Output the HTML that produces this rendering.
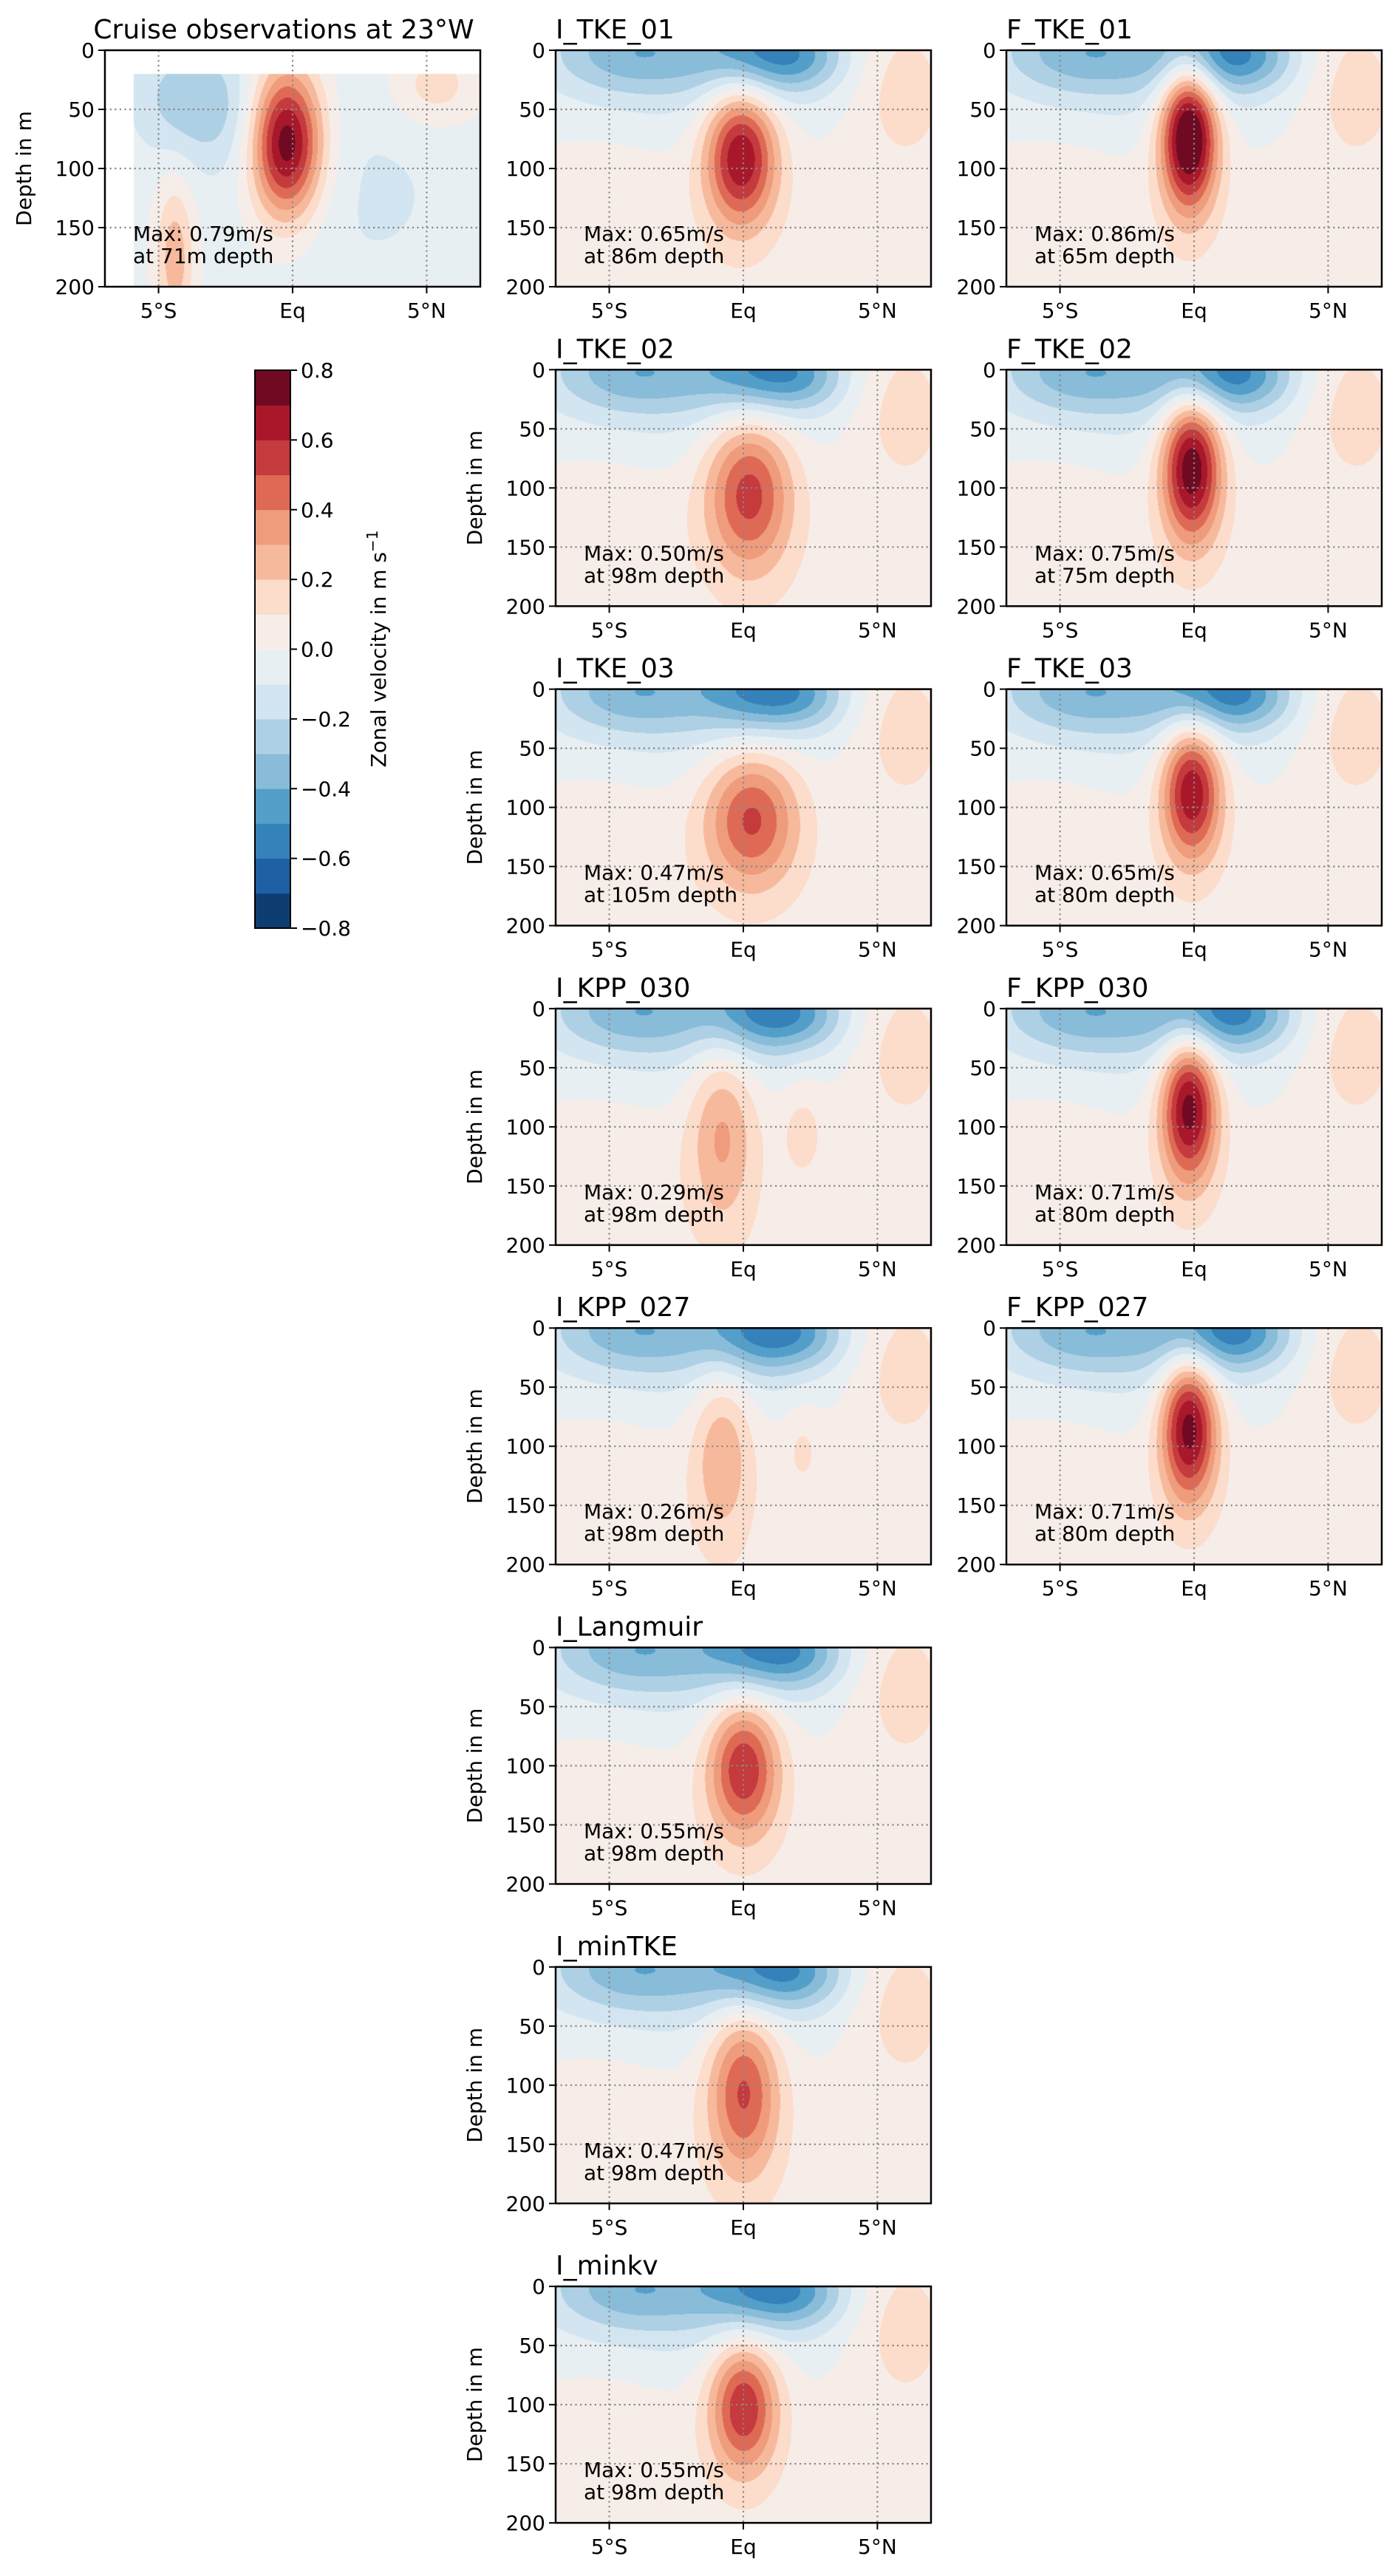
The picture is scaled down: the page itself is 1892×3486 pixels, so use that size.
<!DOCTYPE html>
<html><head><meta charset="utf-8">
<style>
html,body{margin:0;padding:0;background:#fff;}
body{width:1892px;height:3486px;position:relative;overflow:hidden;font-family:"DejaVu Sans","Liberation Sans",sans-serif;}
</style></head>
<body>
<svg id="fig" width="1892" height="3486" xmlns="http://www.w3.org/2000/svg" style="position:absolute;left:0;top:0"></svg>
<script>
// ---- data ----
const levels = [-0.8,-0.7,-0.6,-0.5,-0.4,-0.3,-0.2,-0.1,0,0.1,0.2,0.3,0.4,0.5,0.6,0.7,0.8];
const levelColors = ['#0e3d72','#1f5fa4','#3581ba','#539fca','#88bcd9','#aed0e4','#d3e5f0','#e8eff2',
                     '#f7ede8','#fcdcca','#f7b99c','#ef9c7c','#de6a55','#c43a3d','#a8182a','#6f0a22'];
const cbTicks = [-0.8,-0.6,-0.4,-0.2,0.0,0.2,0.4,0.6,0.8];
const latTicks = [-5,0,5];
const latTickLabels = ['5°S','Eq','5°N'];
const depthTicks = [0,50,100,150,200];
const panelTitles = ['Cruise observations at 23°W','I_TKE_01','F_TKE_01','I_TKE_02','F_TKE_02','I_TKE_03','F_TKE_03',
  'I_KPP_030','F_KPP_030','I_KPP_027','F_KPP_027','I_Langmuir','I_minTKE','I_minkv'];
const panelMax = [0.79,0.65,0.86,0.50,0.75,0.47,0.65,0.29,0.71,0.26,0.71,0.55,0.47,0.55];
const panelMaxDepth = [71,86,65,98,75,105,80,98,80,98,80,98,98,98];
// blobs: [lat, depth, amplitude, sigmaLat, sigmaDepth]
const surfaceBlobs = [[-4,0,-0.36,2.4,26],[0.6,0,-0.42,1.5,26],[2.4,5,-0.22,1.2,20],[-2,40,-0.09,4,35],[6.0,35,0.15,1.3,45],[0,200,0.05,9,90],[-5,150,0.05,1.5,60]];
const eucBlobs = [
  [[-0.25,78,0.84,0.95,45],[-4.4,175,0.3,0.5,45],[-4.0,40,-0.22,1.4,35],[-2.2,60,-0.1,1.2,40],[5.3,30,0.2,1.2,25],[3,120,-0.08,3,80]],
  [[-0.1,88,0.7,0.95,42]],
  [[-0.2,70,0.92,0.75,45]],
  [[0.2,102,0.53,1.15,48]],
  [[-0.1,80,0.8,0.8,45]],
  [[0.3,108,0.5,1.25,42]],
  [[-0.1,84,0.7,0.8,42]],
  [[-0.8,100,0.3,0.9,60],[2.2,100,0.12,0.6,30]],
  [[-0.2,82,0.76,0.75,45]],
  [[-0.8,102,0.27,0.8,55],[2.2,100,0.1,0.5,25]],
  [[-0.2,82,0.76,0.75,45]],
  [[0.0,100,0.58,0.95,42]],
  [[0.0,102,0.5,0.95,52]],
  [[0.0,100,0.58,0.9,40]]
];
// ---- layout ----
const colX=[142,752,1362], PW=508, PH=320;
const rowY=i=>68+432.3*i;
const pos=[[0,0],[1,0],[2,0],[1,1],[2,1],[1,2],[2,2],[1,3],[2,3],[1,4],[2,4],[1,5],[1,6],[1,7]];
const NS='http://www.w3.org/2000/svg';
const svg=document.getElementById('fig');
function mk(tag,attrs,parent){const e=document.createElementNS(NS,tag);for(const k in attrs)e.setAttribute(k,attrs[k]);(parent||svg).appendChild(e);return e;}
function hex(c){return [parseInt(c.substr(1,2),16),parseInt(c.substr(3,2),16),parseInt(c.substr(5,2),16)];}
const rgb=levelColors.map(hex);
const TF=28, TITLEF=36;

panelTitles.forEach((title,p)=>{
  const x0=colX[pos[p][0]], y0=rowY(pos[p][1]);
  const xs=lat=>x0+(lat+7)/14*PW;
  const ys=d=>y0+d/200*PH;
  const g=mk('g',{});
  
  
  const cv=document.createElement('canvas');cv.width=PW;cv.height=PH;
  const ctx=cv.getContext('2d');const img=ctx.createImageData(PW,PH);
  const blobs=(p===0?[]:surfaceBlobs).concat(eucBlobs[p]);
  for(let j=0;j<PH;j++){const d=j/PH*200;
    for(let i=0;i<PW;i++){const lat=i/PW*14-7;let u=0;
      if(p===0){u=-0.03;}
      for(const b of blobs){const a=(lat-b[0])/b[3],c=(d-b[1])/b[4];u+=b[2]*Math.exp(-0.5*(a*a+c*c));}
      let k=Math.floor((u+0.8)/0.1);k=Math.max(0,Math.min(15,k));
      let col=rgb[k];
      if(p===0&&(d<20||lat<-5.95))col=[255,255,255];
      const o=(j*PW+i)*4;img.data[o]=col[0];img.data[o+1]=col[1];img.data[o+2]=col[2];img.data[o+3]=255;}}
  ctx.putImageData(img,0,0);
  const im=mk('image',{x:x0,y:y0,width:PW,height:PH,href:cv.toDataURL()},g);
  
  
  latTicks.forEach(l=>{const ln=mk('line',{x1:xs(l),x2:xs(l),y1:y0,y2:y0+PH,stroke:'#888','stroke-width':2.2,'stroke-dasharray':'2.2,4.4'},g);
    });
  [50,100,150].forEach(dv=>{const ln=mk('line',{x1:x0,x2:x0+PW,y1:ys(dv),y2:ys(dv),stroke:'#888','stroke-width':2.2,'stroke-dasharray':'2.2,4.4'},g);
    });
  const fr=mk('rect',{x:x0,y:y0,width:PW,height:PH,fill:'none',stroke:'#000','stroke-width':2.5},g);
  
  latTicks.forEach((l,k)=>{mk('line',{x1:xs(l),x2:xs(l),y1:y0+PH,y2:y0+PH+9,stroke:'#000','stroke-width':2},g);
    const t=mk('text',{x:xs(l),y:y0+PH+42,'text-anchor':'middle','font-size':TF},g);t.textContent=latTickLabels[k];
    });
  depthTicks.forEach(dv=>{mk('line',{x1:x0-9,x2:x0,y1:ys(dv),y2:ys(dv),stroke:'#000','stroke-width':2},g);
    const t=mk('text',{x:x0-14,y:ys(dv)+10,'text-anchor':'end','font-size':TF},g);t.textContent=dv;
    });
  const tt=mk('text',p===0?{x:x0+PW/2-12,y:y0-16,'text-anchor':'middle','font-size':TITLEF}:{x:x0,y:y0-16,'font-size':TITLEF},g);
  tt.textContent=title;
  if(pos[p][0]<2 && p!==1){const yl=mk('text',{x:0,y:0,'text-anchor':'middle','font-size':TF,transform:`translate(${x0-100},${y0+PH/2}) rotate(-90)`},g);
    yl.textContent='Depth in m';}
  const a1=mk('text',{x:x0+38,y:ys(155)+10,'font-size':TF},g);a1.textContent='Max: '+panelMax[p].toFixed(2)+'m/s';
  
  const a2=mk('text',{x:x0+38,y:ys(155)+40,'font-size':TF},g);a2.textContent='at '+panelMaxDepth[p]+'m depth';
  
});
const cb=mk('g',{});
const cbX=345,cbW=48,cbTop=501,cbBot=1256;
const cbY=v=>cbBot-(v+0.8)/1.6*(cbBot-cbTop);
levelColors.forEach((c,i)=>{const r=mk('rect',{x:cbX,y:cbY(levels[i+1]),width:cbW,height:cbY(levels[i])-cbY(levels[i+1])+0.5,fill:c},cb);
  });
mk('rect',{x:cbX,y:cbTop,width:cbW,height:cbBot-cbTop,fill:'none',stroke:'#000','stroke-width':2},cb);
cbTicks.forEach(v=>{mk('line',{x1:cbX+cbW,x2:cbX+cbW+9,y1:cbY(v),y2:cbY(v),stroke:'#000','stroke-width':2},cb);
  const t=mk('text',{x:cbX+cbW+14,y:cbY(v)+10,'font-size':TF},cb);t.textContent=(v<0?'\u2212':'')+Math.abs(v).toFixed(1);
  });
const cl=mk('text',{x:0,y:0,'text-anchor':'middle','font-size':TF,transform:`translate(522,878) rotate(-90)`},cb);
cl.innerHTML='Zonal velocity in m s<tspan dy="-11" font-size="20">\u22121</tspan>';

</script>
</body></html>
